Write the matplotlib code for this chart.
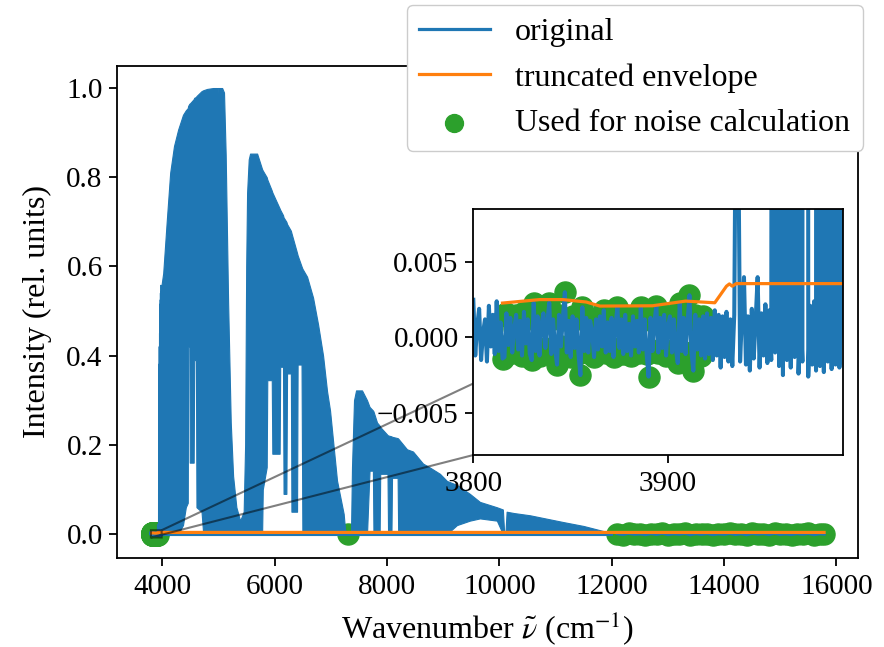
import numpy as np
import matplotlib.pyplot as plt
from matplotlib.ticker import MultipleLocator

plt.rcParams['font.family'] = ['Liberation Serif', 'DejaVu Serif']
plt.rcParams['mathtext.fontset'] = 'stix'
plt.rcParams['axes.linewidth'] = 1.3
for a in ('xtick', 'ytick'):
    plt.rcParams[a + '.major.width'] = 1.3
    plt.rcParams[a + '.major.size'] = 5.5
    plt.rcParams[a + '.labelsize'] = 21
plt.rcParams['xtick.major.pad'] = 6
plt.rcParams['ytick.major.pad'] = 5

# high resolution stretch at the start of the spectrum (3800-3990 cm-1, step 1), units of 1e-3
detail_start = 3800.0
detail_step = 1.0
detail_y = [2.5, -1.2, 0.8, 1.9, -1.5, 0.3, 1.2, -1.6, 2.1, -0.6,
            1.5, -1.1, 2.4, -0.9, 1.0, -1.4, -1.3, 1.6, -0.5, 1.3,
            -1.0, 0.6, 1.5, -0.8, 1.1, -1.2, 1.7, -0.4, 1.2, -1.1,
            -1.5, 2.3, -0.9, 1.4, -1.2, 0.9, 1.6, -0.7, 1.0, 2.3,
            -1.1, 1.2, -0.8, -1.8, 1.5, -0.6, 1.3, 3.0, -1.0, 1.1,
            -1.3, 1.4, -0.7, 1.2, -1.1, -2.5, 2.0, -0.9, 1.3, -1.0,
            1.1, 0.4, -1.3, 1.2, -0.8, 1.4, -0.6, 1.8, -1.0, 1.0,
            -0.9, 1.3, -1.3, 0.8, 2.0, -0.7, 1.2, -1.1, 1.5, -0.9,
            0.9, -1.2, 1.4, -0.6, 1.1, -1.0, 2.0, -0.8, 1.2, -1.1,
            -2.6, 1.3, -0.9, 1.0, 2.1, -1.0, 1.3, -0.7, 1.5, -1.2,
            0.8, 1.4, -1.0, 1.2, -0.8, -1.7, 2.3, -0.9, 1.3, -1.1,
            1.0, 2.8, -1.0, -2.2, 1.5, -0.8, 1.2, -1.2, 1.4, -1.4,
            1.6, -1.1, 1.3, -1.5, 1.8, -1.2, 1.5, -2.0, 1.4, -1.3,
            1.7, -1.6, 1.2, -1.9, 1.5, 20.0, 15.0, -1.6, 1.6, 4.0,
            -1.8, 1.4, -2.2, 1.9, -1.4, 1.2, 4.0, -2.0, 1.6, -1.2,
            2.2, -1.7, 1.8, -1.5, 150.0, -1.0, 160.0, -1.9, 250.0, -2.5,
            280.0, -1.5, 330.0, -2.0, 380.0, -1.3, 420.0, -2.4, 2.0, -1.6,
            440.0, 450.0, -2.6, 2.1, -1.8, 2.4, -2.2, 470.0, -1.9, 490.0,
            -2.3, 500.0, -1.6, 515.0, -2.1, 525.0, -1.8, 540.0, -2.0, 1.5,
            555.0]

# rest of the spectrum: dense fringes, stored as upper / lower envelope
body_x = [3990, 4018, 4080, 4142, 4210, 4284, 4370, 4420, 4455, 4462, 4485, 4490, 4560, 4570,
          4600, 4610, 4700, 4730, 4800, 4907, 4970, 4978, 4986, 5067, 5100, 5130, 5173, 5220,
          5262, 5320, 5387, 5450, 5476, 5495, 5511, 5540, 5564, 5689, 5778, 5790, 5860, 5870,
          5950, 5960, 6090, 6100, 6150, 6160, 6210, 6222, 6290, 6300, 6400, 6410, 6480, 6495,
          6578, 6685, 6774, 6863, 6934, 6987, 7040, 7111, 7230, 7254, 7300, 7360, 7378, 7414,
          7450, 7556, 7645, 7690, 7750, 7760, 7823, 7870, 7880, 8010, 8020, 8080, 8090, 8190,
          8200, 8356, 8463, 8641, 8765, 8943, 9067, 9245, 9476, 9654, 9956, 10063, 10085, 10110,
          10130, 10260, 10545, 11130, 11500, 11840, 12000]
body_hi = [0.56, 0.585, 0.70, 0.81, 0.87, 0.907, 0.94, 0.95, 0.955, 0.96, 0.965, 0.965, 0.975, 0.978,
           0.98, 0.982, 0.993, 0.995, 0.998, 1.0, 1.0, 0.94, 1.0, 1.0, 0.99, 0.85, 0.52, 0.25,
           0.13, 0.06, 0.03, 0.05, 0.2, 0.6, 0.765, 0.84, 0.853, 0.853, 0.818, 0.815, 0.80, 0.795,
           0.77, 0.766, 0.73, 0.727, 0.715, 0.71, 0.70, 0.695, 0.68, 0.675, 0.63, 0.625, 0.60, 0.595,
           0.577, 0.53, 0.47, 0.40, 0.32, 0.277, 0.21, 0.12, 0.045, 0.01, 0.0, 0.0, 0.15, 0.30,
           0.322, 0.322, 0.30, 0.285, 0.277, 0.275, 0.25, 0.243, 0.24, 0.222, 0.221, 0.219, 0.218, 0.215,
           0.214, 0.19, 0.185, 0.158, 0.149, 0.135, 0.119, 0.11, 0.09, 0.072, 0.06, 0.055, 0.005, 0.005,
           0.05, 0.047, 0.042, 0.027, 0.018, 0.007, 0.003]
body_lo = [0, 0, 0, 0, 0, 0, 0.02, 0.06, 0.07, 0.42, 0.42, 0.16, 0.16, 0.39,
           0.39, 0.06, 0.05, 0, 0, 0, 0, 0, 0, 0, 0, 0, 0, 0,
           0, 0, 0, 0, 0, 0, 0, 0, 0, 0, 0, 0.10, 0.15, 0.345,
           0.345, 0.18, 0.18, 0.375, 0.375, 0.09, 0.09, 0.36, 0.36, 0.05, 0.05, 0.38, 0.38, 0,
           0, 0, 0, 0, 0, 0, 0, 0, 0, 0, 0, 0, 0, 0,
           0, 0, 0, 0.142, 0.142, 0, 0, 0, 0.135, 0.135, 0, 0, 0.126, 0.126,
           0, 0, 0, 0, 0, 0, 0, 0.02, 0.03, 0.035, 0.03, 0, 0, 0,
           0, 0, 0, 0, 0, 0, 0]
floor_amp = 0.003

# flat tail at high wavenumber (units of 1e-3)
tail_x = [12100, 12200, 12300, 12400, 12500, 12600, 12700, 12800, 12900, 13000,
          13100, 13200, 13300, 13400, 13500, 13600, 13700, 13800, 13900, 14000,
          14100, 14200, 14300, 14400, 14500, 14600, 14700, 14800, 14900, 15000,
          15100, 15200, 15300, 15400, 15500, 15600, 15700, 15780]
tail_y = [0.8, -1.1, 1.5, -0.6, 0.4, -1.4, 1.0, -0.9, 1.7, -1.2,
          0.6, -0.5, 1.3, -1.6, 0.9, -0.8, 1.1, -1.3, 0.5, -0.7,
          1.4, -1.0, 0.7, -1.5, 1.2, -0.4, 0.9, -1.1, 1.6, -0.9,
          0.3, -1.2, 1.0, -0.6, 1.3, -1.4, 0.8, -0.3]

# truncated envelope (units of 1e-3)
env_x = [3815, 3834, 3846, 3858, 3865, 3892, 3909, 3924, 3930, 3931.5, 3933, 3935, 15780]
env_y = [2.28, 2.51, 2.51, 2.35, 2.08, 2.10, 2.41, 2.30, 3.40, 3.55, 3.40, 3.57, 3.57]

# points kept for the noise estimate
noise_lo, noise_hi = 3815, 3918
gap_x = [7300]
gap_y = [0.0]

detail_y = np.array(detail_y) * 1e-3
detail_x = detail_start + detail_step * np.arange(len(detail_y))
tail_y = np.array(tail_y) * 1e-3
env_y = np.array(env_y) * 1e-3
sel = (detail_x >= noise_lo) & (detail_x <= noise_hi)
noise_x = np.concatenate([detail_x[sel], gap_x, tail_x])
noise_y = np.concatenate([detail_y[sel], gap_y, tail_y])

blue, orange, green = '#1f77b4', '#ff7f0e', '#2ca02c'


def draw(ax, lw):
    ax.fill_between(body_x, body_lo, body_hi, color=blue, lw=0.8, zorder=2)
    ax.fill_between(body_x, -floor_amp, floor_amp, color=blue, lw=0.8, zorder=2)
    l1, = ax.plot(detail_x, detail_y, color=blue, lw=lw, label='original')
    ax.plot(tail_x, tail_y, color=blue, lw=2.3)
    l2, = ax.plot(env_x, env_y, color=orange, lw=2.3, label='truncated envelope')
    sc = ax.scatter(noise_x, noise_y, s=230, color=green, label='Used for noise calculation')
    return [l1, l2, sc]


fig = plt.figure(figsize=(8.84, 6.47), dpi=100)
ax = fig.add_axes([0.1327, 0.138, 0.8376, 0.7605])
handles = draw(ax, 2.3)
ax.xaxis.set_major_locator(MultipleLocator(2000))
ax.yaxis.set_major_locator(MultipleLocator(0.2))
ax.set_xlabel(r'Wavenumber $\tilde{\nu}$ (cm$^{-1}$)', fontsize=23, labelpad=7)
ax.set_ylabel('Intensity (rel. units)', fontsize=23, labelpad=10)

# zoom on the first 190 cm-1
axins = ax.inset_axes([0.4808, 0.2087, 0.4997, 0.4994])
draw(axins, 2.9)
axins.set_xlim(3800, 3990)
axins.set_ylim(-0.0078, 0.0085)
axins.set_xticks([3800, 3900])
axins.set_yticks([-0.005, 0.0, 0.005])
ax.indicate_inset_zoom(axins, edgecolor='black', linewidth=1.5)

fig.legend(handles=handles, loc='upper right', bbox_to_anchor=(0.9762, 0.9923),
           borderaxespad=0, fontsize=23, handlelength=2.2, framealpha=1, markerscale=0.85)

fig.savefig('out.png', dpi=100)
